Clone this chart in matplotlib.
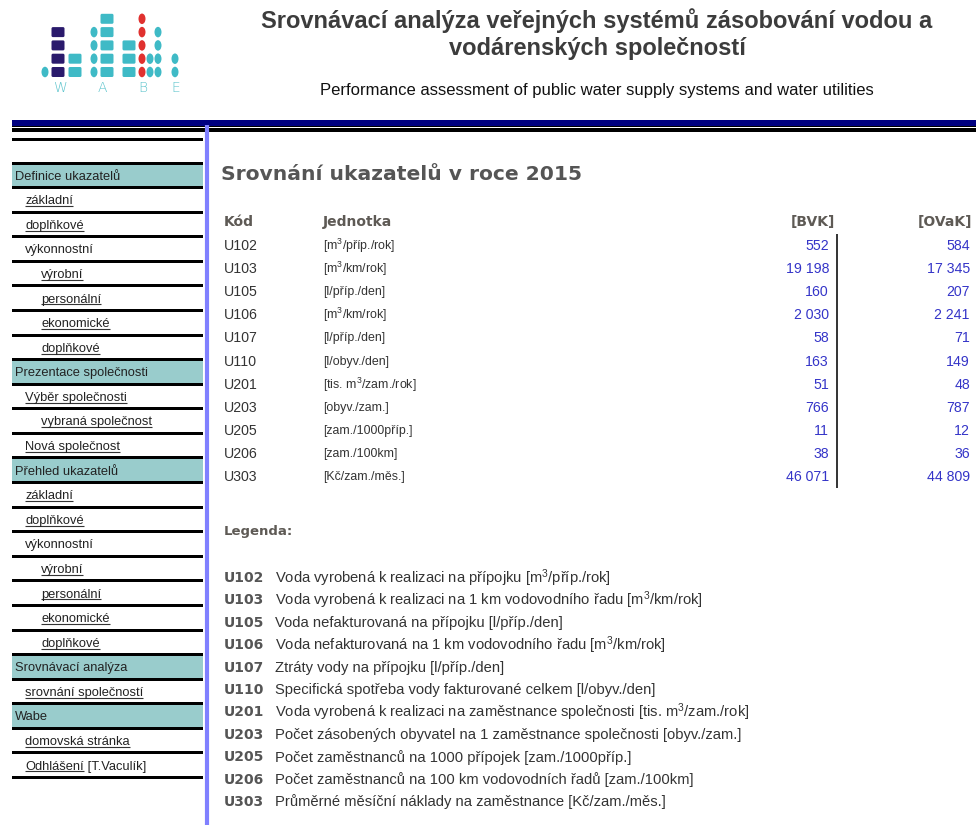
import matplotlib
matplotlib.use("Agg")
import matplotlib.pyplot as plt
from matplotlib import font_manager
from matplotlib.patches import Rectangle, Ellipse, FancyBboxPatch

# --- data ---
codes = ["U102", "U103", "U105", "U106", "U107", "U110", "U201", "U203", "U205", "U206", "U303"]
units = ["[m$^3$/příp./rok]", "[m$^3$/km/rok]", "[l/příp./den]", "[m$^3$/km/rok]", "[l/příp./den]",
         "[l/obyv./den]", "[tis. m$^3$/zam./rok]", "[obyv./zam.]", "[zam./1000příp.]",
         "[zam./100km]", "[Kč/zam./měs.]"]
bvk = [552, 19198, 160, 2030, 58, 163, 51, 766, 11, 38, 46071]
ovak = [584, 17345, 207, 2241, 71, 149, 48, 787, 12, 36, 44809]
descriptions = [
    "Voda vyrobená k realizaci na přípojku",
    "Voda vyrobená k realizaci na 1 km vodovodního řadu",
    "Voda nefakturovaná na přípojku",
    "Voda nefakturovaná na 1 km vodovodního řadu",
    "Ztráty vody na přípojku",
    "Specifická spotřeba vody fakturované celkem",
    "Voda vyrobená k realizaci na zaměstnance společnosti",
    "Počet zásobených obyvatel na 1 zaměstnance společnosti",
    "Počet zaměstnanců na 1000 přípojek",
    "Počet zaměstnanců na 100 km vodovodních řadů",
    "Průměrné měsíční náklady na zaměstnance",
]
nav_labels = ["Definice ukazatelů", "základní", "doplňkové", "výkonnostní", "výrobní", "personální",
              "ekonomické", "doplňkové", "Prezentace společnosti", "Výběr společnosti",
              "vybraná společnost", "Nová společnost", "Přehled ukazatelů", "základní", "doplňkové",
              "výkonnostní", "výrobní", "personální", "ekonomické", "doplňkové",
              "Srovnávací analýza", "srovnání společností", "Wabe", "domovská stránka", "Odhlášení"]
nav_levels = [0, 1, 1, 1, 2, 2, 2, 2, 0, 1, 2, 1, 0, 1, 1, 1, 2, 2, 2, 2, 0, 1, 0, 1, 1]

# logo columns: (x, shape, colour, rows from bottom)
logo_cols = [(45, "e", "#3fbac6", 1), (58, "s", "#2a1a6c", 4), (75, "s", "#3fbac6", 2),
             (94, "e", "#3fbac6", 4), (107, "s", "#3fbac6", 5), (129, "s", "#3fbac6", 3),
             (142, "e", "#e0312f", 5), (150, "e", "#3fbac6", 2), (158, "e", "#3fbac6", 4),
             (175, "e", "#3fbac6", 2)]
logo_letters = ["W", "A", "B", "E"]

# --- fonts ---
names = {f.name for f in font_manager.fontManager.ttflist}
narrow = "Liberation Sans Narrow" if "Liberation Sans Narrow" in names else "Liberation Sans"
plt.rcParams["font.family"] = ["Liberation Sans", "DejaVu Sans"]
plt.rcParams["mathtext.fontset"] = "custom"
plt.rcParams["mathtext.rm"] = "Liberation Sans"
plt.rcParams["mathtext.it"] = "Liberation Sans:italic"
plt.rcParams["mathtext.bf"] = "Liberation Sans:bold"

fig = plt.figure(figsize=(9.76, 8.25), dpi=100)
ax = fig.add_axes([0, 0, 1, 1])
ax.set_xlim(0, 976)
ax.set_ylim(825, 0)
ax.axis("off")
fig.canvas.draw()
renderer = fig.canvas.get_renderer()


def fit(t, width):
    w = t.get_window_extent(renderer).width
    t.set_fontsize(t.get_fontsize() * width / w)


def underline(t, y, color="#333333"):
    bb = t.get_window_extent(renderer)
    inv = ax.transData.inverted()
    x0, _ = inv.transform((bb.x0, bb.y0))
    x1, _ = inv.transform((bb.x1, bb.y0))
    ax.plot([x0, x1], [y, y], color=color, lw=0.8, solid_capstyle="butt")


# logo
for x, shape, col, n in logo_cols:
    for r in range(n):
        yc = 72 - r * 13.3
        if shape == "s":
            ax.add_patch(FancyBboxPatch((x - 6.5, yc - 5), 13, 10, boxstyle="round,pad=0,rounding_size=1.5",
                                        fc=col, ec="none"))
        else:
            ax.add_patch(Ellipse((x, yc), 7, 10.5, fc=col, ec="none"))
for lx, letter in zip([60, 102, 143, 176], logo_letters):
    ax.text(lx, 88, letter, ha="center", va="center", fontsize=10, color="#5cc4cc",
            family="DejaVu Sans", fontweight="light")

# header
h1 = ax.text(597, 21, "Srovnávací analýza veřejných systémů zásobování vodou a", ha="center", va="center",
             fontsize=16, fontweight="bold", color="#3c3c3c", family=narrow)
fit(h1, 671)
ax.text(597, 49, "vodárenských společností", ha="center", va="center",
        fontsize=h1.get_fontsize(), fontweight="bold", color="#3c3c3c", family=narrow)
sub = ax.text(597, 90, "Performance assessment of public water supply systems and water utilities",
              ha="center", va="center", fontsize=12, color="#111111", family=narrow)
fit(sub, 551)

# header bars
ax.add_patch(Rectangle((12, 120), 964, 5.5, fc="#000080", ec="none"))
ax.add_patch(Rectangle((12, 125.5), 964, 1.5, fc="#000000", ec="none"))
ax.add_patch(Rectangle((12, 128), 964, 3.5, fc="#000000", ec="none"))
ax.add_patch(Rectangle((12, 138), 191, 3, fc="#000000", ec="none"))

# sidebar
row_h = 24.58
top = 163
for i, (label, lev) in enumerate(zip(nav_labels, nav_levels)):
    y0 = top + i * row_h
    if lev == 0:
        ax.add_patch(Rectangle((12, y0), 191, row_h, fc="#99cccc", ec="none"))
    base = y0 + row_h / 2 + 4.4
    xs = {0: 15, 1: 25, 2: 41}[lev]
    t = ax.text(xs, base, label, ha="left", va="baseline", fontsize=9.3, color="#222222")
    if lev > 0 and label != "výkonnostní":
        underline(t, base + 1.8)
    if label == "Odhlášení":
        bb = t.get_window_extent(renderer)
        xe = ax.transData.inverted().transform((bb.x1, bb.y0))[0]
        ax.text(xe, base, " [T.Vaculík]", ha="left", va="baseline", fontsize=9.3, color="#222222")
for i in range(len(nav_labels) + 1):
    ax.add_patch(Rectangle((12, top + i * row_h - 1.5), 191, 3, fc="#000000", ec="none", zorder=3))

ax.plot([207, 207], [125, 825], color="#8080ff", lw=3, solid_capstyle="butt")

# main title
mt = ax.text(221, 174, "Srovnání ukazatelů v roce 2015", ha="left", va="center", fontsize=16,
             fontweight="bold", color="#555555", family="DejaVu Sans")
fit(mt, 361)

# table header
hcol = "#5e5a55"
ax.text(224, 222, "Kód", ha="left", va="center", fontsize=10, fontweight="bold", color=hcol, family="DejaVu Sans")
ax.text(323, 222, "Jednotka", ha="left", va="center", fontsize=10, fontweight="bold", color=hcol, family="DejaVu Sans")
ax.text(835, 222, "[BVK]", ha="right", va="center", fontsize=10, fontweight="bold", color=hcol, family="DejaVu Sans")
ax.text(972, 222, "[OVaK]", ha="right", va="center", fontsize=10, fontweight="bold", color=hcol, family="DejaVu Sans")


def fmt(v):
    return f"{v:,}".replace(",", " ")


for i, (c, u, b, o) in enumerate(zip(codes, units, bvk, ovak)):
    y = 246 + i * 23.1
    ax.text(224, y, c, ha="left", va="center", fontsize=10.2, color="#333333")
    ax.text(323, y, u, ha="left", va="center", fontsize=8.9, color="#333333")
    ax.text(829, y, fmt(b), ha="right", va="center", fontsize=10.2, color="#3434c8")
    ax.text(970, y, fmt(o), ha="right", va="center", fontsize=10.2, color="#3434c8")
ax.plot([837, 837], [234, 488], color="#333333", lw=1.4, solid_capstyle="butt")

# legend
ax.text(224, 532, "Legenda:", ha="left", va="center", fontsize=9.5, fontweight="bold", color=hcol,
        family="DejaVu Sans")
for i, (c, d, u) in enumerate(zip(codes, descriptions, units)):
    y = 578 + i * 22.4
    ax.text(224, y, c, ha="left", va="center", fontsize=10, fontweight="bold", color="#555555",
            family="DejaVu Sans")
    ax.text(275, y, d + " " + u, ha="left", va="center", fontsize=10.6, color="#333333")

fig.savefig("out.png", dpi=100)
